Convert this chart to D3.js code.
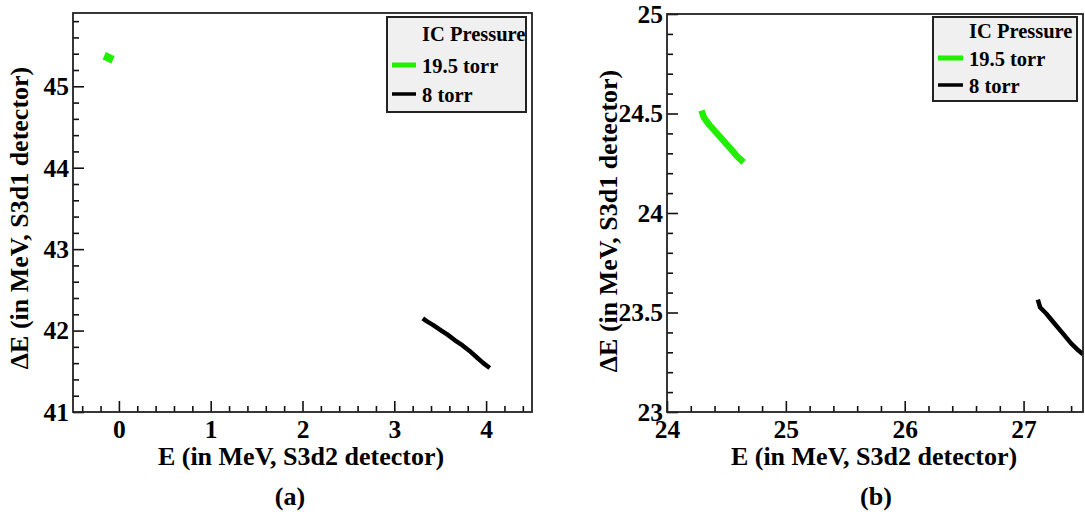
<!DOCTYPE html>
<html>
<head>
<meta charset="utf-8">
<script src="https://cdn.jsdelivr.net/npm/d3@7"></script>
<style>
  html, body { margin: 0; padding: 0; background: #fff; }
  svg { display: block; }
  svg text { font-family: "Liberation Serif", Tinos, "Times New Roman", Times, "DejaVu Serif", serif !important; font-weight: bold; fill: #000; }
</style>
</head>
<body>
<svg id="chart" width="1085" height="515"></svg>
<script>
// ---------------- data ----------------
const seriesNames = ["19.5 torr", "8 torr"];
const seriesColors = ["#22ee00", "#000000"];
const legendTitle = "IC Pressure";
const xTitle = "E (in MeV, S3d2 detector)";
const yTitle = "\u0394E (in MeV, S3d1 detector)";
const panelLabels = ["(a)", "(b)"];

// panel (a) axis ranges and ticks
const aXDomain = [-0.5, 4.5];
const aYDomain = [41, 45.9];
const aXTicks = [0, 1, 2, 3, 4];
const aYTicks = [41, 42, 43, 44, 45];
// panel (a) series (E, dE)
const aGreen = [[-0.16, 45.375], [-0.12, 45.355], [-0.085, 45.335], [-0.065, 45.325]];
const aBlack = [[3.31, 42.15], [3.36, 42.11], [3.42, 42.07], [3.50, 42.01], [3.58, 41.95],
                [3.66, 41.88], [3.74, 41.82], [3.82, 41.75], [3.90, 41.67], [3.97, 41.60], [4.04, 41.54]];

// panel (b) axis ranges and ticks
const bXDomain = [24, 27.5];
const bYDomain = [23, 25];
const bXTicks = [24, 25, 26, 27];
const bYTicks = [23, 23.5, 24, 24.5, 25];
// panel (b) series (E, dE)
const bGreen = [[24.29, 24.515], [24.31, 24.48], [24.36, 24.44], [24.42, 24.40], [24.48, 24.36],
                [24.54, 24.32], [24.59, 24.285], [24.645, 24.255]];
const bBlack = [[27.12, 23.565], [27.14, 23.525], [27.19, 23.495], [27.26, 23.445], [27.33, 23.395],
                [27.40, 23.345], [27.46, 23.31], [27.5, 23.29]];

// ---------------- layout ----------------
const svg = d3.select("#chart");
const FONT = '"Liberation Serif", Tinos, "Times New Roman", Times, "DejaVu Serif", serif';

const panels = [
  { xd: aXDomain, yd: aYDomain, xt: aXTicks, yt: aYTicks, xMinor: 0.2, yMinor: 0.2,
    series: [aGreen, aBlack], widths: [8, 4.5],
    box: { l: 73, r: 532, t: 13, b: 412 },
    legend: { l: 387, r: 526, t: 17, b: 112, tx: 422, rows: [41, 73, 102], lx0: 392, lx1: 416 },
    yTitleX: 28, yTitleY: 218, xTitleX: 301, label: panelLabels[0], labelX: 290 },
  { xd: bXDomain, yd: bYDomain, xt: bXTicks, yt: bYTicks, xMinor: 0.2, yMinor: 0.1,
    series: [bGreen, bBlack], widths: [6.5, 4.5],
    box: { l: 667, r: 1083, t: 14, b: 412 },
    legend: { l: 933, r: 1077, t: 17, b: 101, tx: 969, rows: [38, 66, 93], lx0: 938, lx1: 963 },
    yTitleX: 617, yTitleY: 221, xTitleX: 874, label: panelLabels[1], labelX: 876 }
];

panels.forEach((p, i) => {
  const B = p.box;
  const x = d3.scaleLinear().domain(p.xd).range([B.l, B.r]);
  const y = d3.scaleLinear().domain(p.yd).range([B.b, B.t]);
  const g = svg.append("g").attr("font-family", FONT).attr("font-weight", "bold");

  const eps = 1e-9;
  const xMinorVals = d3.range(Math.ceil(p.xd[0] / p.xMinor - eps) * p.xMinor, p.xd[1] + eps, p.xMinor)
    .filter(v => !p.xt.some(t => Math.abs(t - v) < 1e-6));
  const yMinorVals = d3.range(Math.ceil(p.yd[0] / p.yMinor - eps) * p.yMinor, p.yd[1] + eps, p.yMinor)
    .filter(v => !p.yt.some(t => Math.abs(t - v) < 1e-6));

  const xMinAx = g.append("g").attr("transform", `translate(0,${B.b})`)
    .call(d3.axisBottom(x).tickValues(xMinorVals).tickSize(-6).tickFormat(""));
  const yMinAx = g.append("g").attr("transform", `translate(${B.l},0)`)
    .call(d3.axisLeft(y).tickValues(yMinorVals).tickSize(-6).tickFormat(""));

  const xAx = g.append("g").attr("transform", `translate(0,${B.b})`)
    .call(d3.axisBottom(x).tickValues(p.xt).tickSize(-11).tickPadding(0).tickFormat(d3.format("")));
  const yAx = g.append("g").attr("transform", `translate(${B.l},0)`)
    .call(d3.axisLeft(y).tickValues(p.yt).tickSize(-11).tickPadding(4).tickFormat(d3.format("")));

  [xMinAx, yMinAx, xAx, yAx].forEach(a => {
    a.attr("font-family", FONT);
    a.select(".domain").remove();
    a.selectAll(".tick line").attr("stroke", "#111").attr("stroke-width", 1.6);
  });
  xAx.selectAll(".tick text").attr("y", 26).attr("dy", null).attr("font-size", 25.5).attr("fill", "#000");
  yAx.selectAll(".tick text").attr("dy", "0.33em").attr("font-size", 25.5).attr("fill", "#000");

  const clipId = "clip" + i;
  svg.append("clipPath").attr("id", clipId).append("rect")
    .attr("x", B.l).attr("y", B.t).attr("width", B.r - B.l).attr("height", B.b - B.t);

  const line = d3.line().x(d => x(d[0])).y(d => y(d[1]));
  const dg = g.append("g").attr("clip-path", `url(#${clipId})`);
  p.series.forEach((s, k) => {
    dg.append("path").attr("d", line(s)).attr("fill", "none")
      .attr("stroke", seriesColors[k]).attr("stroke-width", p.widths[k])
      .attr("stroke-linecap", "butt").attr("stroke-linejoin", "round");
  });

  g.append("rect").attr("x", B.l).attr("y", B.t).attr("width", B.r - B.l).attr("height", B.b - B.t)
    .attr("fill", "none").attr("stroke", "#222").attr("stroke-width", 1.8);

  const L = p.legend;
  const lclip = "lclip" + i;
  svg.append("clipPath").attr("id", lclip).append("rect")
    .attr("x", L.l).attr("y", L.t).attr("width", L.r - L.l).attr("height", L.b - L.t);
  const lg = g.append("g");
  lg.append("rect").attr("x", L.l).attr("y", L.t).attr("width", L.r - L.l).attr("height", L.b - L.t)
    .attr("fill", "#f0f0f0");
  const lt = lg.append("g").attr("clip-path", `url(#${lclip})`);
  lt.append("text").attr("x", L.tx).attr("y", L.rows[0]).attr("font-size", 20.5).text(legendTitle);
  seriesNames.forEach((nm, k) => {
    const yy = L.rows[k + 1];
    lt.append("line").attr("x1", L.lx0).attr("x2", L.lx1).attr("y1", yy - 8).attr("y2", yy - 8)
      .attr("stroke", seriesColors[k]).attr("stroke-width", k === 0 ? 5 : 3.5);
    lt.append("text").attr("x", L.tx).attr("y", yy).attr("font-size", 20.5).text(nm);
  });
  lg.append("rect").attr("x", L.l).attr("y", L.t).attr("width", L.r - L.l).attr("height", L.b - L.t)
    .attr("fill", "none").attr("stroke", "#222").attr("stroke-width", 2);

  g.append("text").attr("x", p.xTitleX).attr("y", 465).attr("text-anchor", "middle")
    .attr("font-size", 26).text(xTitle);
  g.append("text").attr("transform", `translate(${p.yTitleX},${p.yTitleY}) rotate(-90)`)
    .attr("text-anchor", "middle").attr("font-size", 26).text(yTitle);
  g.append("text").attr("x", p.labelX).attr("y", 505).attr("text-anchor", "middle")
    .attr("font-size", 26).text(p.label);
});
</script>
</body>
</html>
